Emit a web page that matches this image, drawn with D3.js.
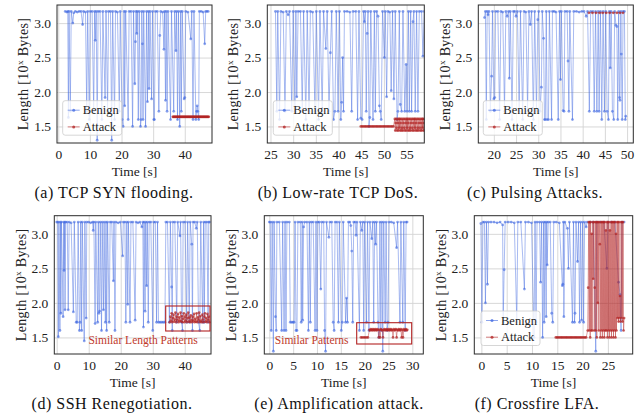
<!DOCTYPE html>
<html lang="en">
<head>
	<meta charset="utf-8">
	<title>Length patterns</title>
	<script src="https://cdn.jsdelivr.net/npm/d3@7"></script>
	<style>
		body { margin: 0; background: #fff; }
		text { font-family: "Liberation Serif", "DejaVu Serif", serif; }
	</style>
</head>
<body>
	<script>
		// ---- data (time [s], length [10^x bytes]) ----
		const benignA = [[2.2,3.17],[2.7,3.16],[3.0,3.17],[3.2,1.63],[3.4,3.17],[3.8,1.72],[4.1,3.17],[4.6,3.0],[4.9,3.15],[5.4,3.17],[6.0,3.16],[6.6,3.17],[7.2,3.17],[7.7,2.98],[8.0,3.17],[8.6,3.16],[9.0,1.72],[9.3,3.17],[9.8,1.6],[10.1,3.17],[10.7,3.17],[11.2,1.72],[11.5,3.17],[11.7,2.75],[12.0,3.17],[12.3,1.3],[12.6,3.17],[13.2,3.17],[13.8,1.6],[14.1,3.17],[14.8,1.92],[15.1,3.17],[15.6,1.72],[15.9,3.17],[16.5,3.17],[16.9,1.3],[17.2,3.17],[17.8,1.6],[18.1,3.17],[18.7,3.16],[19.3,1.72],[19.6,3.17],[20.2,1.6],[20.5,1.5],[20.8,3.17],[21.0,1.8],[21.3,3.17],[22.1,1.6],[22.4,3.17],[23.0,3.17],[23.5,1.5],[23.8,3.17],[24.2,2.12],[24.4,2.73],[24.6,3.17],[24.8,2.85],[25.0,3.17],[25.3,1.6],[25.6,3.17],[26.0,1.5],[26.2,1.6],[26.4,3.17],[26.6,2.7],[26.8,1.6],[27.0,3.17],[27.6,1.5],[27.9,3.17],[28.2,1.86],[28.5,3.17],[28.7,2.05],[29.0,3.17],[29.5,1.9],[29.8,3.17],[30.2,1.6],[30.4,1.6],[30.7,3.17],[31.3,3.17],[31.8,1.72],[32.1,2.82],[32.4,3.17],[33.0,3.16],[33.4,2.62],[33.6,3.17],[33.9,1.88],[34.1,3.17],[34.4,1.72],[34.7,3.17],[35.5,1.6],[35.8,3.17],[36.5,1.72],[36.8,3.17],[37.2,2.6],[37.4,3.17],[37.7,1.6],[38.0,3.17],[38.4,1.5],[38.7,3.17],[38.9,1.72],[39.2,3.17],[39.8,1.9],[40.0,1.92],[40.3,3.17],[41.0,3.16],[41.9,2.77],[42.2,3.17],[42.6,1.6],[42.9,3.17],[43.5,1.6],[43.7,1.72],[43.9,1.8],[44.1,1.72],[44.4,1.6],[44.6,3.17],[45.2,3.17],[45.8,3.16],[46.3,2.7],[46.6,3.17],[47.0,3.17],[47.4,3.17]];
		const attackA = [[36.2,1.64],[36.4,1.64],[36.6,1.64],[36.8,1.64],[37.0,1.64],[37.2,1.64],[37.4,1.64],[37.6,1.64],[37.8,1.64],[38.0,1.64],[38.2,1.64],[38.4,1.64],[38.6,1.64],[38.8,1.64],[39.0,1.64],[39.2,1.64],[39.4,1.64],[39.6,1.64],[39.8,1.64],[40.0,1.64],[40.2,1.64],[40.4,1.64],[40.6,1.64],[40.8,1.64],[41.0,1.64],[41.2,1.64],[41.4,1.64],[41.6,1.64],[41.8,1.64],[42.0,1.64],[42.2,1.64],[42.4,1.64],[42.6,1.64],[42.8,1.64],[43.0,1.64],[43.2,1.64],[43.4,1.64],[43.6,1.64],[43.8,1.64],[44.0,1.64],[44.2,1.64],[44.4,1.64],[44.6,1.64],[44.8,1.64],[45.0,1.64],[45.2,1.64],[45.4,1.64],[45.6,1.64],[45.8,1.64],[46.0,1.64],[46.2,1.64],[46.4,1.64],[46.6,1.64],[46.8,1.64],[47.0,1.64],[47.2,1.64],[47.4,1.64],[47.6,1.64]];

		const benignB = [[26.1,3.17],[26.4,1.72],[26.6,3.17],[27.0,1.6],[27.3,3.17],[27.8,3.16],[28.2,1.72],[28.5,3.17],[28.9,3.12],[29.2,3.17],[29.7,1.72],[30.0,3.17],[30.4,1.72],[30.6,3.17],[30.8,1.93],[31.1,3.17],[31.6,3.17],[32.0,1.72],[32.3,3.17],[32.8,1.6],[33.1,3.17],[33.5,1.72],[33.8,3.17],[34.3,3.16],[34.8,1.72],[35.1,3.17],[35.6,1.6],[35.9,3.17],[36.4,1.72],[36.7,3.17],[37.2,2.63],[37.5,3.17],[37.9,1.72],[38.2,2.57],[38.5,3.17],[38.9,1.6],[39.2,1.72],[39.5,3.17],[39.9,1.72],[40.2,3.17],[40.5,1.6],[40.7,1.85],[40.9,2.5],[41.1,1.72],[41.3,3.17],[41.9,3.17],[42.5,3.16],[42.9,1.72],[43.2,3.17],[43.8,3.17],[44.2,1.6],[44.5,3.17],[44.9,1.62],[45.2,1.6],[45.5,3.17],[45.7,3.02],[45.9,3.17],[46.1,1.72],[46.3,2.85],[46.5,3.17],[46.7,1.5],[46.9,1.63],[47.1,3.17],[47.6,1.6],[47.9,3.17],[48.1,1.72],[48.4,3.17],[48.7,3.1],[49.0,1.8],[49.2,1.72],[49.4,1.6],[49.7,3.17],[50.1,2.5],[50.3,3.17],[50.6,1.93],[50.9,3.17],[51.3,3.16],[51.6,2.02],[51.9,3.17],[52.2,1.9],[52.5,3.17],[52.9,1.6],[53.1,1.72],[53.4,3.17],[53.6,1.82],[53.9,1.72],[54.2,3.17],[54.6,1.72],[54.9,2.4],[55.1,1.72],[55.4,3.17],[55.6,1.72],[55.9,3.17],[56.1,1.72],[56.4,3.02],[56.6,3.17],[56.9,1.72],[57.2,3.17],[57.5,1.72],[57.8,3.17],[58.3,3.17],[58.6,2.52],[58.9,3.17]];
		const attackB = [[44.9,1.5],[45.2,1.5],[45.5,1.5],[45.8,1.5],[46.1,1.5],[46.4,1.5],[46.7,1.5],[47.0,1.5],[47.3,1.5],[47.6,1.5],[47.9,1.5],[48.2,1.5],[48.5,1.5],[48.8,1.5],[49.1,1.5],[49.4,1.5],[49.7,1.5],[50.0,1.5],[50.3,1.5],[50.6,1.5],[50.9,1.5],[51.2,1.5],[51.5,1.5],[51.8,1.5],[52.1,1.5],
			[52.4,1.61],[52.5,1.44],[52.6,1.55],[52.7,1.61],[52.8,1.48],[52.9,1.44],[53.0,1.61],[53.1,1.55],[53.2,1.44],[53.3,1.61],[53.4,1.48],[53.5,1.61],[53.6,1.44],[53.7,1.55],[53.8,1.61],[53.9,1.44],[54.0,1.48],[54.1,1.61],[54.2,1.44],[54.3,1.55],[54.4,1.61],[54.5,1.48],[54.6,1.44],[54.7,1.61],[54.8,1.55],[54.9,1.44],[55.0,1.61],[55.1,1.48],[55.2,1.61],[55.3,1.44],[55.4,1.55],[55.5,1.61],[55.6,1.44],[55.7,1.48],[55.8,1.61],[55.9,1.44],[56.0,1.55],[56.1,1.61],[56.2,1.48],[56.3,1.44],[56.4,1.61],[56.5,1.55],[56.6,1.44],[56.7,1.61],[56.8,1.48],[56.9,1.61],[57.0,1.44],[57.1,1.55],[57.2,1.61],[57.3,1.44],[57.4,1.48],[57.5,1.61],[57.6,1.44],[57.7,1.55],[57.8,1.61],[57.9,1.48],[58.0,1.44],[58.1,1.61],[58.2,1.55],[58.3,1.44],[58.4,1.61],[58.5,1.48],[58.6,1.61],[58.7,1.44],[58.8,1.55],[58.9,1.61],[59.0,1.44]];

		const benignC = [[17.9,3.08],[18.1,3.17],[18.3,1.6],[18.5,3.17],[18.7,3.12],[18.9,3.17],[19.2,1.72],[19.5,2.23],[19.7,3.17],[20.0,1.9],[20.2,1.92],[20.4,3.17],[20.9,3.17],[21.3,1.6],[21.6,3.17],[22.0,3.16],[22.4,1.72],[22.7,3.17],[23.0,3.1],[23.3,3.17],[23.5,2.2],[23.7,3.17],[24.1,1.6],[24.4,3.17],[24.7,3.17],[25.0,3.1],[25.3,3.17],[25.7,1.72],[26.0,3.17],[26.5,1.6],[26.8,3.17],[27.2,3.16],[27.6,1.72],[27.9,3.17],[28.2,2.98],[28.5,3.17],[28.9,1.6],[29.2,3.17],[29.6,1.72],[29.9,3.05],[30.1,3.17],[30.4,1.72],[30.7,2.07],[30.9,3.17],[31.2,2.78],[31.4,1.6],[31.6,1.6],[31.8,3.17],[32.0,1.6],[32.3,1.6],[32.5,3.17],[33.0,1.6],[33.2,3.17],[33.6,3.17],[34.0,3.16],[34.5,1.6],[34.8,3.17],[35.0,2.18],[35.2,3.17],[35.6,1.73],[35.8,1.72],[36.0,3.17],[36.5,3.17],[36.7,2.45],[36.9,1.72],[37.1,3.17],[37.7,1.6],[38.0,3.17],[38.6,3.17],[39.2,3.16],[39.8,3.17],[40.3,3.17],[40.8,3.1],[41.1,3.17],[41.5,1.72],[41.8,3.17],[42.3,3.17],[42.6,1.72],[42.9,3.17],[43.2,1.72],[43.5,3.17],[43.7,1.72],[44.0,3.17],[44.3,1.6],[44.6,3.17],[44.9,1.72],[45.2,3.17],[45.5,1.72],[45.8,1.6],[46.0,3.17],[46.2,2.35],[46.4,3.17],[46.7,1.72],[47.0,1.6],[47.2,3.17],[47.5,2.97],[47.7,2.95],[47.9,1.6],[48.1,3.17],[48.3,1.92],[48.4,1.88],[48.6,3.17],[48.7,2.55],[48.9,1.6],[49.1,3.17],[49.4,3.17],[49.6,1.6],[49.7,1.65]];
		const attackC = [[41.4,3.15],[42.2,3.15],[43.0,3.15],[43.8,3.15],[44.5,3.15],[45.3,3.15],[46.1,3.15],[46.9,3.15],[47.7,3.15],[48.4,3.15],[49.1,3.15]];

		const benignD = [[0.0,3.17],[0.3,3.17],[0.5,1.51],[0.7,3.17],[1.0,1.6],[1.2,3.17],[1.3,1.85],[1.5,3.17],[2.0,1.8],[2.2,3.17],[2.3,2.47],[2.5,3.17],[2.6,1.9],[2.8,3.17],[3.3,3.17],[3.6,1.9],[3.9,3.17],[4.5,3.16],[5.2,1.87],[5.5,3.17],[6.1,1.72],[6.4,1.72],[6.7,3.17],[7.1,1.6],[7.3,1.72],[7.5,3.17],[7.8,1.6],[8.0,3.17],[8.6,1.45],[8.8,3.17],[9.2,1.78],[9.4,3.17],[10.0,3.17],[10.6,3.16],[11.2,3.17],[11.4,3.05],[11.6,3.17],[12.0,1.7],[12.2,3.17],[12.8,1.72],[13.0,3.17],[13.2,1.85],[13.4,1.88],[13.6,3.17],[14.0,1.6],[14.2,3.17],[14.6,1.9],[14.8,3.17],[15.2,1.72],[15.4,3.17],[15.6,1.6],[15.9,3.17],[16.4,1.72],[16.7,3.17],[17.2,3.17],[17.7,2.32],[17.9,3.17],[18.2,1.6],[18.5,3.17],[19.2,3.16],[19.9,3.17],[20.6,2.68],[20.8,3.17],[21.3,3.17],[21.6,1.72],[21.9,3.17],[22.2,1.98],[22.4,3.17],[22.9,1.72],[23.2,3.17],[23.8,3.17],[24.5,1.75],[24.8,3.17],[25.4,3.16],[26.0,3.17],[26.6,3.1],[26.9,3.17],[27.1,1.65],[27.3,3.17],[27.6,1.88],[27.8,3.17],[28.1,2.25],[28.3,3.17],[28.6,1.72],[28.9,3.17],[29.4,3.17],[30.0,1.6],[30.3,3.17],[30.8,3.17],[31.2,1.72],[31.5,3.17],[31.8,1.72],[32.3,1.72],[32.8,1.72],[33.3,1.72],[33.8,1.72],[34.1,3.17],[34.6,3.17],[35.2,1.72],[35.5,3.17],[35.9,2.23],[36.1,1.6],[36.3,3.17],[36.9,3.17],[37.5,1.72],[37.8,3.17],[38.5,2.97],[38.7,3.17],[39.0,1.72],[39.3,1.6],[39.5,3.17],[40.1,3.17],[40.6,1.72],[40.9,3.17],[41.4,1.72],[41.7,3.17],[42.2,2.85],[42.4,1.6],[42.6,3.17],[43.1,3.17],[43.6,3.08],[43.9,3.17],[44.3,1.72],[44.7,1.6],[45.0,3.17],[45.6,1.72],[45.9,3.17],[46.1,1.72],[46.4,3.17],[46.9,3.17],[47.3,1.72],[47.5,3.17],[47.7,3.17]];
		const attackD = [[35.3,1.72],[35.5,1.8],[35.7,1.74],[35.9,1.85],[36.1,1.72],[36.3,1.78],[36.5,1.83],[36.7,1.73],[36.9,1.76],[37.1,1.86],[37.3,1.72],[37.5,1.8],[37.7,1.75],[37.9,1.84],[38.1,1.72],[38.3,1.79],[38.5,1.74],[38.7,1.86],[38.9,1.73],[39.1,1.81],[39.3,1.72],[39.5,1.77],[39.7,1.85],[39.9,1.72],[40.1,1.8],[40.3,1.74],[40.5,1.83],[40.7,1.72],[40.9,1.78],[41.1,1.86],[41.3,1.73],[41.5,1.79],[41.7,1.72],[41.9,1.82],[42.1,1.75],[42.3,1.72],[42.5,1.8],[42.7,1.74],[42.9,1.84],[43.1,1.72],[43.3,1.77],[43.5,1.73],[43.7,1.85],[43.9,1.72],[44.1,1.79],[44.3,1.75],[44.5,1.86],[44.7,1.72],[44.9,1.81],[45.1,1.74],[45.3,1.72],[45.5,1.83],[45.7,1.76],[45.9,1.72],[46.1,1.8],[46.3,1.85],[46.5,1.73],[46.7,1.78],[46.9,1.72],[47.1,1.84],[47.3,1.75],[47.5,1.8],[47.7,1.72]];

		const benignE = [[0.0,3.17],[0.2,3.17],[0.4,1.6],[0.6,3.17],[0.85,1.3],[1.0,3.17],[1.3,1.8],[1.45,1.6],[1.6,3.17],[2.1,3.17],[2.6,1.6],[2.8,3.17],[3.1,1.6],[3.3,3.17],[3.5,1.6],[3.7,3.17],[4.2,3.17],[4.4,1.72],[4.7,1.72],[5.0,1.72],[5.2,1.72],[5.4,3.17],[5.6,1.6],[5.8,1.6],[6.0,3.17],[6.5,3.17],[6.7,1.72],[6.9,3.17],[7.0,1.75],[7.2,3.1],[7.4,3.17],[7.9,3.17],[8.2,1.6],[8.4,3.17],[8.6,1.72],[8.8,3.17],[9.2,3.17],[9.6,1.6],[9.8,3.17],[10.0,1.6],[10.2,3.17],[10.5,3.17],[10.8,2.2],[11.0,3.17],[11.4,3.17],[11.6,1.6],[11.8,1.3],[12.0,3.17],[12.5,2.95],[12.7,3.17],[13.1,3.17],[13.4,1.72],[13.6,1.6],[13.8,3.17],[14.2,3.17],[14.5,1.72],[14.7,3.17],[15.1,1.6],[15.3,1.72],[15.5,3.17],[16.0,1.72],[16.2,2.07],[16.4,1.72],[16.6,3.17],[16.9,3.17],[17.1,3.12],[17.3,2.75],[17.5,1.72],[17.7,3.17],[18.0,3.17],[18.2,2.98],[18.4,3.17],[18.9,1.6],[19.1,3.17],[19.4,3.05],[19.6,3.17],[19.8,1.6],[20.0,3.17],[20.4,1.72],[20.6,3.17],[20.9,1.6],[21.1,3.17],[21.5,2.93],[21.7,3.17],[21.9,1.72],[22.1,3.17],[22.3,2.85],[22.5,3.17],[22.8,1.72],[23.0,1.5],[23.2,3.17],[23.4,1.6],[23.6,3.17],[23.8,1.3],[24.0,3.17],[24.3,1.72],[24.5,3.17],[24.7,1.6],[24.9,1.72],[25.1,3.17],[25.6,3.17],[26.1,3.16],[26.7,2.8],[26.9,3.17],[27.4,1.72],[27.6,3.17],[28.0,1.72],[28.2,3.17],[28.5,1.6],[28.7,3.17],[28.9,3.17]];
		const attackE = [[19.2,1.5],[19.5,1.5],[19.8,1.5],[20.1,1.5],[20.4,1.5],[20.7,1.5],[21.0,1.61],[21.15,1.6],[21.3,1.62],[21.45,1.61],[21.6,1.6],[21.75,1.62],[21.9,1.61],[22.05,1.6],[22.2,1.62],[22.35,1.61],[22.5,1.6],[22.65,1.62],[22.8,1.61],[22.95,1.5],[23.1,1.61],[23.25,1.5],[23.4,1.62],[23.55,1.61],[23.7,1.6],[23.85,1.5],[24.0,1.61],[24.15,1.62],[24.3,1.6],[24.45,1.61],[24.6,1.62],[24.75,1.6],[24.9,1.61],[25.05,1.62],[25.2,1.6],[25.35,1.61],[25.5,1.62],[25.65,1.6],[25.8,1.61],[25.95,1.5],[26.1,1.62],[26.25,1.6],[26.4,1.61],[26.55,1.62],[26.7,1.5],[26.85,1.61],[27.0,1.6],[27.15,1.62],[27.3,1.61],[27.45,1.6],[27.6,1.62],[27.75,1.5],[27.9,1.61],[28.05,1.5],[28.2,1.62],[28.35,1.6],[28.5,1.61],[28.65,1.62],[28.8,1.6],[28.95,1.61]];

		const benignF = [[-0.1,3.15],[0.1,1.72],[0.3,3.17],[0.6,3.17],[0.8,2.0],[1.0,3.17],[1.2,2.27],[1.4,3.17],[1.9,3.17],[2.5,3.17],[3.1,3.16],[3.7,3.17],[4.2,3.13],[4.3,1.72],[4.5,2.48],[4.7,3.17],[5.3,3.17],[5.9,3.17],[6.5,3.16],[7.0,1.72],[7.2,3.17],[7.8,3.17],[8.5,2.2],[8.7,3.17],[9.3,3.17],[9.9,3.16],[10.4,1.5],[10.6,3.17],[10.8,1.72],[11.0,3.17],[11.5,3.17],[11.7,2.3],[11.9,3.17],[12.1,1.5],[12.3,3.17],[12.4,1.72],[12.6,3.17],[12.8,1.8],[12.9,3.17],[13.0,2.55],[13.2,3.17],[13.6,3.17],[13.9,1.85],[14.1,1.72],[14.3,3.17],[14.8,3.17],[15.4,3.16],[16.0,2.25],[16.1,2.27],[16.2,3.17],[16.3,1.8],[16.5,3.17],[17.0,3.08],[17.2,2.5],[17.4,3.17],[18.0,1.72],[18.2,3.17],[18.4,1.72],[18.5,1.85],[18.7,3.17],[19.0,2.6],[19.2,3.17],[19.4,1.72],[19.6,3.17],[19.8,1.75],[20.0,3.17],[20.2,1.72],[20.4,3.17],[20.7,3.1],[20.9,3.17],[21.5,3.17],[22.1,3.17],[22.6,1.3],[22.8,3.17],[23.5,3.17],[24.2,3.17],[24.8,2.5],[25.0,3.17],[25.7,3.17],[26.4,3.17],[27.1,2.3],[27.4,2.12],[27.6,1.6],[27.8,3.17],[28.2,3.17]];
		const attackF = [[14.7,1.5],[14.95,1.5],[15.2,1.5],[15.45,1.5],[15.7,1.5],[15.95,1.5],[16.2,1.5],[16.45,1.5],[16.7,1.5],[16.95,1.5],[17.2,1.5],[17.45,1.5],[17.7,1.5],[17.95,1.5],[18.2,1.5],[18.45,1.5],[18.7,1.5],[18.95,1.5],[19.2,1.5],[19.45,1.5],[19.7,1.5],[19.95,1.5],[20.2,1.5],[20.45,1.5],[20.7,1.5],
			[21.0,1.6],[21.1,2.22],[21.2,3.17],[21.3,1.6],[21.4,3.17],[21.5,1.5],[21.6,3.17],[21.7,1.6],[21.8,3.0],[21.9,1.6],[22.0,3.17],[22.1,2.35],[22.2,3.17],[22.3,1.6],[22.4,2.22],[22.5,3.17],[22.6,1.6],[22.7,3.17],[22.8,1.5],[22.9,3.17],[23.0,2.0],[23.1,3.17],[23.2,1.6],[23.3,3.17],[23.4,2.85],[23.5,1.5],[23.6,3.17],[23.7,1.6],[23.8,3.17],[23.9,1.5],[24.0,3.17],[24.1,1.6],[24.2,3.17],[24.3,1.5],[24.4,3.17],[24.5,1.6],[24.6,3.05],[24.7,1.6],[24.8,3.17],[24.9,1.5],[25.0,3.17],[25.1,1.6],[25.2,3.17],[25.3,1.5],[25.4,3.05],[25.5,1.6],[25.6,3.17],[25.7,1.5],[25.8,3.17],[25.9,1.6],[26.0,3.17],[26.1,1.5],[26.2,3.17],[26.3,1.6],[26.4,3.17],[26.5,1.5],[26.6,3.0],[26.7,1.6],[26.8,3.17],[26.9,1.78],[27.0,3.17],[27.1,1.73],[27.2,3.17],[27.3,1.78],[27.4,2.1],[27.5,1.73],[27.6,3.17],[27.7,1.78],[27.8,3.17],[27.9,1.73],[28.0,3.17],[28.1,1.6],[28.2,1.78]];

		const yTicks = [1.5, 2.0, 2.5, 3.0];
		const xTicksA = [0, 10, 20, 30, 40];
		const xTicksB = [25, 30, 35, 40, 45, 50, 55];
		const xTicksC = [20, 25, 30, 35, 40, 45, 50];
		const xTicksD = [0, 10, 20, 30, 40];
		const xTicksE = [0, 5, 10, 15, 20, 25, 30];
		const xTicksF = [0, 5, 10, 15, 20, 25];
		const captions = ["(a)  TCP SYN flooding.", "(b)  Low-rate TCP DoS.", "(c)  Pulsing Attacks.",
			"(d)  SSH Renegotiation.", "(e)  Amplification attack.", "(f)  Crossfire LFA."];
		const seriesNames = ["Benign", "Attack"];

		// layout
		const blue = "#4169e1";
		const red = "#b22222";
		const yDomain = [1.26, 3.263];

		const panels = [
			{ L: 57, R: 212, T: 5, B: 143, xd: [-0.4, 48.6], ticks: xTicksA, benign: benignA, attack: attackA, ylab: 23, cap: 114, legend: [62.7, 100.7] },
			{ L: 267.3, R: 424.3, T: 5, B: 143, xd: [24.3, 58.9], ticks: xTicksB, benign: benignB, attack: attackB, ylab: 233, cap: 338, legend: [273.3, 100.7] },
			{ L: 478.3, R: 633.3, T: 5, B: 143, xd: [16.5, 51.4], ticks: xTicksC, benign: benignC, attack: attackC, ylab: 445, cap: 535, legend: [483.3, 100.7] },
			{ L: 54.3, R: 211, T: 215.7, B: 354, xd: [-0.75, 48.2], ticks: xTicksD, benign: benignD, attack: attackD, ylab: 21, cap: 112,
				box: [165.7, 306, 44.3, 25], note: "Similar Length Patterns", noteX: 143, noteY: 344 },
			{ L: 264.3, R: 423.3, T: 215.7, B: 354, xd: [-1.05, 32.3], ticks: xTicksE, benign: benignE, attack: attackE, ylab: 231, cap: 339,
				box: [356.7, 322.7, 55, 21.3], note: "Similar Patterns", noteX: 311.7, noteY: 343.5 },
			{ L: 474.3, R: 632.7, T: 215.7, B: 354, xd: [-1.4, 29.9], ticks: xTicksF, benign: benignF, attack: attackF, ylab: 441, cap: 537, legend: [481, 311] }
		];

		const svg = d3.select("body")
			.append("svg")
			.attr("width", 642)
			.attr("height", 413);

		panels.forEach(function (p, i) {
			const x = d3.scaleLinear().domain(p.xd).range([p.L, p.R]);
			const y = d3.scaleLinear().domain(yDomain).range([p.B, p.T]);
			const g = svg.append("g");

			const clipId = "clip" + i;
			svg.append("clipPath").attr("id", clipId)
				.append("rect")
				.attr("x", p.L).attr("y", p.T)
				.attr("width", p.R - p.L).attr("height", p.B - p.T);

			// grid + tick labels
			const xAxis = g.append("g")
				.attr("transform", `translate(0,${p.B})`)
				.call(d3.axisBottom(x).tickValues(p.ticks).tickSize(-(p.B - p.T)).tickPadding(6).tickFormat(d3.format("d")));
			const yAxis = g.append("g")
				.attr("transform", `translate(${p.L},0)`)
				.call(d3.axisLeft(y).tickValues(yTicks).tickSize(-(p.R - p.L)).tickPadding(6).tickFormat(d3.format(".1f")));
			[xAxis, yAxis].forEach(function (a) {
				a.select(".domain").remove();
				a.selectAll("line").attr("stroke", "#d4d4d4").attr("stroke-width", 0.9);
				a.selectAll("text").attr("font-size", "13.5px").attr("fill", "#222")
					.attr("font-family", "'Liberation Serif', serif");
			});

			const line = d3.line()
				.x(function (d) { return x(d[0]); })
				.y(function (d) { return y(d[1]); });

			const plot = g.append("g").attr("clip-path", `url(#${clipId})`);

			plot.append("path")
				.datum(p.benign)
				.attr("d", line)
				.attr("fill", "none")
				.attr("stroke", blue)
				.attr("stroke-opacity", 0.45)
				.attr("stroke-width", 1);
			plot.selectAll("circle.benign")
				.data(p.benign)
				.enter()
				.append("circle")
				.attr("class", "benign")
				.attr("cx", function (d) { return x(d[0]); })
				.attr("cy", function (d) { return y(d[1]); })
				.attr("r", 1.4)
				.attr("fill", blue)
				.attr("fill-opacity", 0.6);

			plot.append("path")
				.datum(p.attack)
				.attr("d", line)
				.attr("fill", "none")
				.attr("stroke", red)
				.attr("stroke-opacity", 0.42)
				.attr("stroke-width", 1);
			plot.selectAll("circle.attack")
				.data(p.attack)
				.enter()
				.append("circle")
				.attr("class", "attack")
				.attr("cx", function (d) { return x(d[0]); })
				.attr("cy", function (d) { return y(d[1]); })
				.attr("r", 1.35)
				.attr("fill", red)
				.attr("fill-opacity", 0.7);

			// frame
			g.append("rect")
				.attr("x", p.L).attr("y", p.T)
				.attr("width", p.R - p.L).attr("height", p.B - p.T)
				.attr("fill", "none")
				.attr("stroke", "#2b2b2b")
				.attr("stroke-width", 1);

			// labels
			g.append("text")
				.attr("x", (p.L + p.R) / 2)
				.attr("y", p.B + 33)
				.attr("text-anchor", "middle")
				.attr("font-size", "13.5px")
				.attr("fill", "#222")
				.text("Time [s]");

			const yl = g.append("text")
				.attr("transform", `translate(${p.ylab + 4.5},${(p.T + p.B) / 2}) rotate(-90)`)
				.attr("text-anchor", "middle")
				.attr("font-size", "14px")
				.attr("letter-spacing", "0.35px")
				.attr("fill", "#222");
			yl.append("tspan").text("Length [10");
			yl.append("tspan").attr("font-size", "9px").attr("dy", "-5").text("x");
			yl.append("tspan").attr("dy", "5").text(" Bytes]");

			g.append("text")
				.attr("x", p.cap)
				.attr("y", p.B + 54.5)
				.attr("text-anchor", "middle")
				.attr("font-size", "16px")
				.attr("letter-spacing", "0.5px")
				.attr("fill", "#111")
				.text(captions[i]);

			// legend
			if (p.legend) {
				const lg = g.append("g").attr("transform", `translate(${p.legend[0]},${p.legend[1]})`);
				lg.append("rect")
					.attr("width", 59).attr("height", 34.5)
					.attr("rx", 2.5)
					.attr("fill", "#fff").attr("fill-opacity", 0.8)
					.attr("stroke", "#cccccc").attr("stroke-width", 0.8);
				[blue, red].forEach(function (c, k) {
					const cy = 9.5 + k * 16.7;
					lg.append("line")
						.attr("x1", 5).attr("x2", 17)
						.attr("y1", cy).attr("y2", cy)
						.attr("stroke", c).attr("stroke-opacity", 0.6).attr("stroke-width", 1);
					lg.append("circle")
						.attr("cx", 11).attr("cy", cy).attr("r", 1.5)
						.attr("fill", c).attr("fill-opacity", 0.75);
					lg.append("text")
						.attr("x", 20).attr("y", cy + 4)
						.attr("font-size", "12.5px")
						.attr("fill", "#222")
						.text(seriesNames[k]);
				});
			}

			// annotation box
			if (p.box) {
				g.append("rect")
					.attr("x", p.box[0]).attr("y", p.box[1])
					.attr("width", p.box[2]).attr("height", p.box[3])
					.attr("fill", "none")
					.attr("stroke", red)
					.attr("stroke-width", 1.1);
				g.append("text")
					.attr("x", p.noteX).attr("y", p.noteY)
					.attr("text-anchor", "middle")
					.attr("font-size", "11.5px")
					.attr("fill", "#c0392b")
					.text(p.note);
			}
		});
	</script>
</body>
</html>
